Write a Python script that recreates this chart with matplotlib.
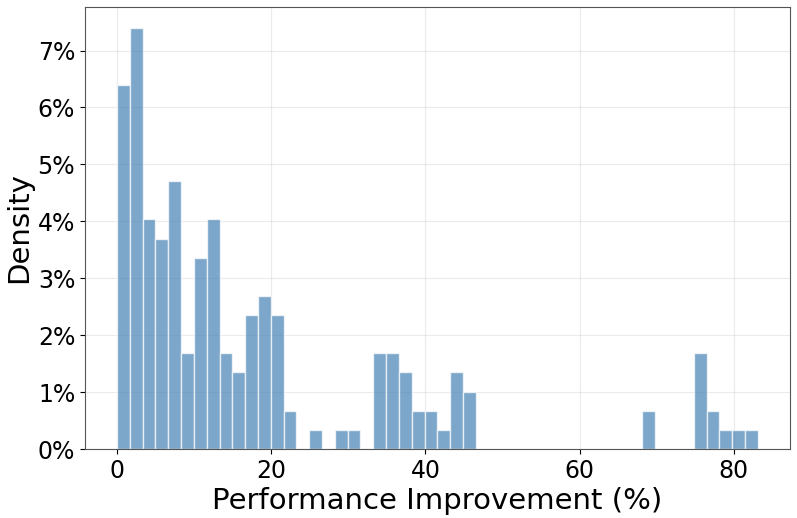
import numpy as np
import matplotlib
matplotlib.use('Agg')
import matplotlib.pyplot as plt
from matplotlib.ticker import PercentFormatter

# ── Data: counts per bin (50 equal bins over the observed range) ──────────────
BIN_RANGE = (0.0, 83.1)
N_BINS = 50
counts = [19, 22, 12, 11, 14, 5, 10, 12, 5, 4,
          7, 8, 7, 2, 0, 1, 0, 1, 1, 0,
          5, 5, 4, 2, 2, 1, 4, 3, 0, 0,
          0, 0, 0, 0, 0, 0, 0, 0, 0, 0,
          0, 2, 0, 0, 0, 5, 2, 1, 1, 1]

edges = np.linspace(BIN_RANGE[0], BIN_RANGE[1], N_BINS + 1)
centers = (edges[:-1] + edges[1:]) / 2

# ── Plot ──────────────────────────────────────────────────────────────────────
fig, ax = plt.subplots(figsize=(7.97, 5.18), dpi=100)
fig.patch.set_facecolor("white")

ax.hist(centers, bins=edges, weights=counts, density=True,
        color='steelblue', alpha=0.7, edgecolor='white', linewidth=1)

ax.yaxis.set_major_formatter(PercentFormatter(xmax=1, decimals=0))
ax.set_xlabel("Performance Improvement (%)", fontsize=21, labelpad=3)
ax.set_ylabel("Density", fontsize=21, labelpad=3)
ax.tick_params(labelsize=17)
ax.grid(True, alpha=0.25)
ax.set_axisbelow(True)
for s in ax.spines.values():
    s.set_color('#555555')

plt.subplots_adjust(left=0.1066, right=0.991, top=0.9865, bottom=0.1332)
plt.savefig("out.png", dpi=100, facecolor='white')
plt.close()
